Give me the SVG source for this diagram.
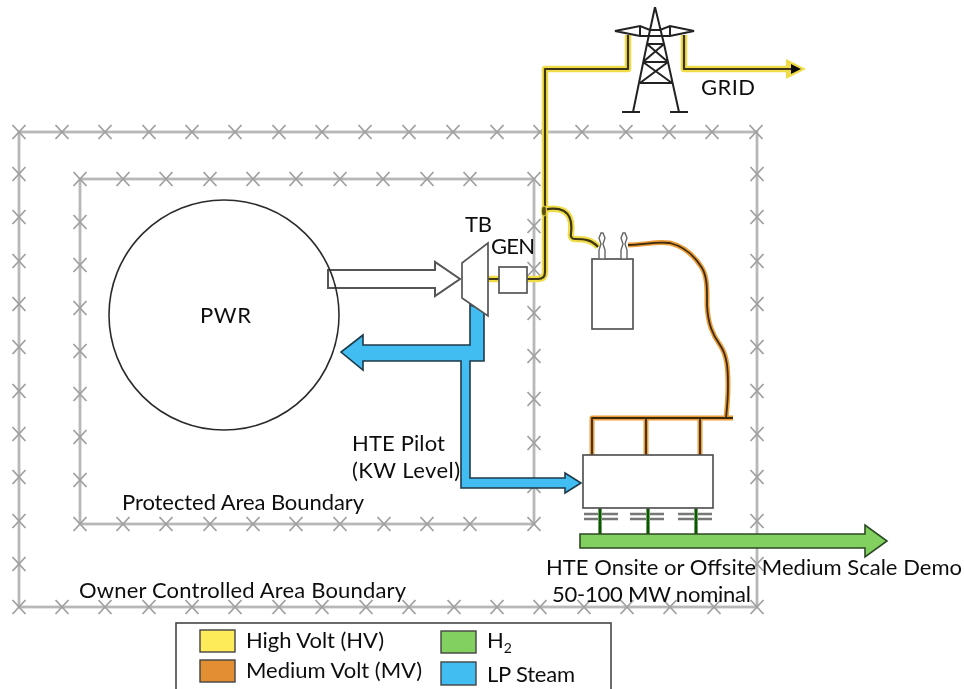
<svg xmlns="http://www.w3.org/2000/svg" width="964" height="689" viewBox="0 0 964 689">
<style>
text{font-family:Lato,"Liberation Sans",sans-serif;font-size:22px;fill:#111}
.fence{fill:none;stroke:#b8b8b8;stroke-width:2.800}
.x{fill:none;stroke:#a0a0a0;stroke-width:1.800}
.box{fill:#fff;stroke:#555;stroke-width:1.700}
.hvo{fill:none;stroke:#f0dc48;stroke-width:6.500;stroke-linejoin:round}
.hvi{fill:none;stroke:#3a3612;stroke-width:2.200;stroke-linejoin:round}
.mvo{fill:none;stroke:#ea9c38;stroke-width:5;stroke-linejoin:round}
.mvi{fill:none;stroke:#3a2a10;stroke-width:1.800;stroke-linejoin:round}
.tw{fill:none;stroke:#222;stroke-width:2}
.bar{fill:none;stroke:#777;stroke-width:2.400}
</style>
<defs>
<path id="x" class="x" d="M-6.500-7L6.500 7M-6.500 7L6.500-7"/>
<filter id="soft" x="0" y="0" width="100%" height="100%"><feGaussianBlur stdDeviation="0.450"/></filter>
</defs>
<g filter="url(#soft)">
<g id="outer-fence">
<rect class="fence" x="19" y="132" width="738" height="475"/>
<g id="outer-x">
<use href="#x" x="19" y="132"/><use href="#x" x="62" y="132"/><use href="#x" x="105" y="132"/><use href="#x" x="149" y="132"/><use href="#x" x="192" y="132"/><use href="#x" x="235" y="132"/><use href="#x" x="279" y="132"/><use href="#x" x="322" y="132"/><use href="#x" x="365" y="132"/><use href="#x" x="409" y="132"/><use href="#x" x="453" y="132"/><use href="#x" x="497" y="132"/><use href="#x" x="540" y="132"/><use href="#x" x="582" y="132"/><use href="#x" x="626" y="132"/><use href="#x" x="669" y="132"/><use href="#x" x="712" y="132"/><use href="#x" x="756" y="132"/>
<use href="#x" x="19" y="174"/><use href="#x" x="19" y="217"/><use href="#x" x="19" y="261"/><use href="#x" x="19" y="304"/><use href="#x" x="19" y="347"/><use href="#x" x="19" y="391"/><use href="#x" x="19" y="434"/><use href="#x" x="19" y="477"/><use href="#x" x="19" y="521"/><use href="#x" x="19" y="564"/><use href="#x" x="19" y="607"/>
<use href="#x" x="757" y="174"/><use href="#x" x="757" y="217"/><use href="#x" x="757" y="261"/><use href="#x" x="757" y="304"/><use href="#x" x="757" y="347"/><use href="#x" x="757" y="391"/><use href="#x" x="757" y="434"/><use href="#x" x="757" y="477"/><use href="#x" x="757" y="521"/><use href="#x" x="757" y="564"/><use href="#x" x="757" y="607"/>
<use href="#x" x="62" y="607"/><use href="#x" x="105" y="607"/><use href="#x" x="149" y="607"/><use href="#x" x="192" y="607"/><use href="#x" x="235" y="607"/><use href="#x" x="279" y="607"/><use href="#x" x="322" y="607"/><use href="#x" x="366" y="607"/><use href="#x" x="409" y="607"/><use href="#x" x="454" y="607"/><use href="#x" x="497" y="607"/><use href="#x" x="540" y="607"/><use href="#x" x="584" y="607"/><use href="#x" x="627" y="607"/><use href="#x" x="670" y="607"/><use href="#x" x="714" y="607"/>
</g>
</g>
<g id="inner-fence">
<rect class="fence" x="80" y="179" width="454" height="345"/>
<use href="#x" x="80" y="179"/><use href="#x" x="123" y="179"/><use href="#x" x="166" y="179"/><use href="#x" x="210" y="179"/><use href="#x" x="253" y="179"/><use href="#x" x="296" y="179"/><use href="#x" x="340" y="179"/><use href="#x" x="383" y="179"/><use href="#x" x="427" y="179"/><use href="#x" x="470" y="179"/><use href="#x" x="534" y="179"/>
<use href="#x" x="80" y="222"/><use href="#x" x="80" y="265"/><use href="#x" x="80" y="308"/><use href="#x" x="80" y="351"/><use href="#x" x="80" y="394"/><use href="#x" x="80" y="437"/><use href="#x" x="80" y="480"/><use href="#x" x="80" y="524"/>
<use href="#x" x="534" y="226"/><use href="#x" x="534" y="269"/><use href="#x" x="534" y="313"/><use href="#x" x="534" y="356"/><use href="#x" x="534" y="399"/><use href="#x" x="534" y="443"/><use href="#x" x="534" y="486"/><use href="#x" x="534" y="524"/>
<use href="#x" x="123" y="524"/><use href="#x" x="166" y="524"/><use href="#x" x="210" y="524"/><use href="#x" x="253" y="524"/><use href="#x" x="296" y="524"/><use href="#x" x="340" y="524"/><use href="#x" x="384" y="524"/><use href="#x" x="427" y="524"/><use href="#x" x="470" y="524"/>
</g>
<g id="connectors">
<path class="hvo" d="M488 279H499M527 279H538Q545 279 545 272V69H628V35M684 35V69H790"/>
<path d="M786 59L806 69L786 79Z" fill="#f0dc48"/>
<path class="hvi" d="M488 279H499M527 279H538Q545 279 545 272V69H628V35M684 35V69H795"/>
<path d="M791 64L801 69L791 74Z" fill="#111"/>
<path class="hvo" d="M544 210C552 208 558 208 564 211C572 216 572 225 571 233Q570 239 575 239C585 239 592 240 598 247"/>
<path class="hvi" d="M544 210C552 208 558 208 564 211C572 216 572 225 571 233Q570 239 575 239C585 239 592 240 598 247"/>
<ellipse cx="544" cy="211" rx="2.500" ry="5" fill="#5a5010" stroke="#f0dc48" stroke-width="1"/>
<path class="mvo" d="M628 245C645 245 655 241 670 243C682 246 692 253 700 265C708 275 707 290 707 305C708 325 713 335 720 345C727 355 728 368 728 385C728 400 727 408 726 418M592 455V418H733M646 418V455M700 418V455"/>
<path class="mvi" d="M628 245C645 245 655 241 670 243C682 246 692 253 700 265C708 275 707 290 707 305C708 325 713 335 720 345C727 355 728 368 728 385C728 400 727 408 726 418M592 455V418H733M646 418V455M700 418V455"/>
<path class="bar" d="M584 514H618M584 519H618M630 514H664M630 519H664M678 514H712M678 519H712"/>
<path d="M600 508V534M648 508V534M696 508V534" fill="none" stroke="#58b048" stroke-width="4"/>
<path d="M600 508V534M648 508V534M696 508V534" fill="none" stroke="#1f3a18" stroke-width="1.800"/>
<polygon id="steam-arrow" points="470,305 470,345 363,345 363,335 341,352 363,370 363,361 461,361 461,488 565,488 565,493 581,483 565,473 565,478 470,478 470,361 484,361 484,310" fill="#42bdf2" stroke="#1f3a4a" stroke-width="1.600"/>
<polygon id="h2-arrow" points="580,534 865,534 865,525 887,541 865,557 865,548 580,548" fill="#82d060" stroke="#2c4a24" stroke-width="1.600"/>
<polygon id="power-arrow" points="328,270 435,270 435,262 460,279 435,296 435,288 328,288" fill="#fff" stroke="#555" stroke-width="2"/>
</g>
<g id="pwr"><circle cx="224" cy="315" r="115" fill="none" stroke="#2c2c2c" stroke-width="1.600"/><text x="200" y="323" textLength="51">PWR</text></g>
<g id="turbine"><polygon class="box" points="462,263 488,243 488,316 462,298"/><text x="465" y="232" textLength="27">TB</text></g>
<g id="generator"><rect class="box" x="499" y="267" width="28" height="26"/><text x="491" y="254" textLength="44">GEN</text></g>
<g id="transformer">
<rect class="box" x="592" y="259" width="41" height="70"/>
<path d="M599 259V250L601 244L599 238L601 233H603L605 238L603 244L605 250V259ZM621 259V250L623 244L621 238L623 233H625L627 238L625 244L627 250V259Z" fill="#fff" stroke="#666" stroke-width="1.400"/>
</g>
<g id="hte-module"><rect class="box" x="583" y="455" width="130" height="53"/></g>
<g id="tower">
<path class="tw" d="M655 7L647 44L633 112M655 7L664 44L679 112M615 31L640 26L650 30H660L670 26L694 31L670 36H640ZM640 26V36M670 26V36M622 112H640M670 112H688M647 44H664M643 62H668M640 83H672M647 44L668 62M664 44L643 62M643 62L672 83M668 62L640 83"/>
<text x="701" y="95" textLength="54">GRID</text>
</g>
<g id="labels">
<text x="352" y="451" textLength="93">HTE Pilot</text>
<text x="352" y="478" textLength="108">(KW Level)</text>
<text x="122" y="510" textLength="242">Protected Area Boundary</text>
<text x="79" y="598" textLength="327">Owner Controlled Area Boundary</text>
<text x="546" y="575" textLength="416">HTE Onsite or Offsite Medium Scale Demo</text>
<text x="552" y="602" textLength="199">50-100 MW nominal</text>
</g>
<g id="legend">
<rect x="176" y="623" width="435" height="70" fill="none" stroke="#444" stroke-width="1.600"/>
<rect x="200" y="630" width="35" height="22" fill="#fdeb5a" stroke="#444" stroke-width="1.400"/>
<rect x="200" y="660" width="35" height="22" fill="#e28e30" stroke="#444" stroke-width="1.400"/>
<rect x="441" y="631" width="35" height="22" fill="#82d060" stroke="#444" stroke-width="1.400"/>
<rect x="441" y="662" width="35" height="23" fill="#42bdf2" stroke="#444" stroke-width="1.400"/>
<text x="246" y="648" textLength="138">High Volt (HV)</text>
<text x="246" y="678" textLength="176">Medium Volt (MV)</text>
<text x="487" y="648">H<tspan font-size="14" dy="5">2</tspan></text>
<text x="487" y="682" textLength="88">LP Steam</text>
</g>
</g>
</svg>
